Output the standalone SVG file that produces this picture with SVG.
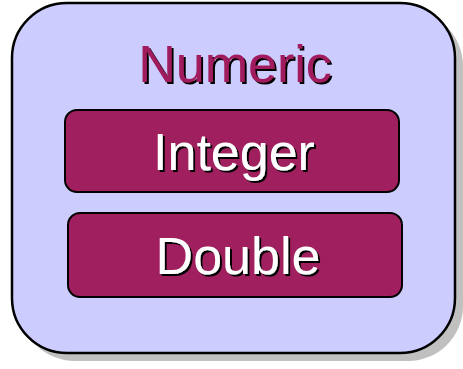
<svg xmlns="http://www.w3.org/2000/svg" width="463" height="369" viewBox="0 0 463 369">
<defs>
<filter id="ts" x="-10%" y="-20%" width="120%" height="140%">
<feOffset in="SourceAlpha" dx="2" dy="2" result="o"/>
<feFlood flood-color="#000"/>
<feComposite in2="o" operator="in" result="s"/>
<feMerge><feMergeNode in="s"/><feMergeNode in="SourceGraphic"/></feMerge>
</filter>
</defs>
<style>
.t{font-family:"Liberation Sans",Arial,sans-serif;font-size:52px;text-anchor:middle;filter:url(#ts)}
.box{fill:#a01f5e;stroke:#000;stroke-width:2}
</style>
<rect x="0" y="0" width="463" height="369" fill="#fff"/>
<g id="numeric">
<rect x="20" y="11" width="443" height="350" rx="55" fill="#c0c0c0"/>
<rect x="12" y="3" width="443" height="350" rx="55" fill="#ccccff" stroke="#000" stroke-width="2.5"/>
<text class="t" x="235" y="82" fill="#a01f5e">Numeric</text>
</g>
<g id="integer">
<rect class="box" x="65" y="110" width="334" height="82" rx="12"/>
<text class="t" x="234" y="170" fill="#fff">Integer</text>
</g>
<g id="double">
<rect class="box" x="68" y="213" width="334" height="84" rx="12"/>
<text class="t" x="238" y="274" fill="#fff">Double</text>
</g>
<g id="connectors"></g>
</svg>
